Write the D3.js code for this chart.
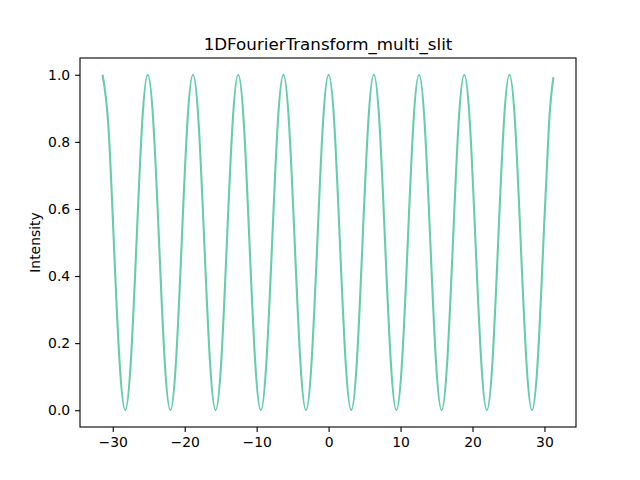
<!DOCTYPE html>
<html>
<head>
<meta charset="utf-8">
<script src="https://cdn.jsdelivr.net/npm/d3@7"></script>
<style>
  body { margin: 0; background: #fff; }
  text { font-family: "DejaVu Sans", sans-serif; fill: #000; }
</style>
</head>
<body>
<div id="chart"></div>
<script>
// sample positions (roughly quarter steps of pi/4)
const xValues = [
  -31.42, -30.63, -29.85, -29.06, -28.27, -27.49, -26.70, -25.92,
  -25.13, -24.35, -23.56, -22.78, -21.99, -21.21, -20.42, -19.64,
  -18.85, -18.06, -17.28, -16.49, -15.71, -14.92, -14.14, -13.35,
  -12.57, -11.78, -11.00, -10.21, -9.42, -8.64, -7.85, -7.07,
  -6.28, -5.50, -4.71, -3.93, -3.14, -2.36, -1.57, -0.79,
  0.00, 0.79, 1.57, 2.36, 3.14, 3.93, 4.71, 5.50,
  6.28, 7.07, 7.85, 8.64, 9.42, 10.21, 11.00, 11.78,
  12.57, 13.35, 14.14, 14.92, 15.71, 16.49, 17.28, 18.06,
  18.85, 19.64, 20.42, 21.21, 21.99, 22.78, 23.56, 24.35,
  25.13, 25.92, 26.70, 27.49, 28.27, 29.06, 29.85, 30.63,
  31.25
];
const intensity = [
  1.0, 0.854, 0.5, 0.146, 0.0, 0.146, 0.5, 0.854,
  1.0, 0.854, 0.5, 0.146, 0.0, 0.146, 0.5, 0.854,
  1.0, 0.854, 0.5, 0.146, 0.0, 0.146, 0.5, 0.854,
  1.0, 0.854, 0.5, 0.146, 0.0, 0.146, 0.5, 0.854,
  1.0, 0.854, 0.5, 0.146, 0.0, 0.146, 0.5, 0.854,
  1.0, 0.854, 0.5, 0.146, 0.0, 0.146, 0.5, 0.854,
  1.0, 0.854, 0.5, 0.146, 0.0, 0.146, 0.5, 0.854,
  1.0, 0.854, 0.5, 0.146, 0.0, 0.146, 0.5, 0.854,
  1.0, 0.854, 0.5, 0.146, 0.0, 0.146, 0.5, 0.854,
  1.0, 0.854, 0.5, 0.146, 0.0, 0.146, 0.5, 0.854,
  0.993
];
const xTicks = [-30, -20, -10, 0, 10, 20, 30];
const yTicks = [0.0, 0.2, 0.4, 0.6, 0.8, 1.0];

const chartTitle = '1DFourierTransform_multi_slit';
const yLabel = 'Intensity';

const width = 640, height = 480;
const margin = { top: 58, right: 64, bottom: 53, left: 80 };
const innerW = width - margin.left - margin.right,
      innerH = height - margin.top - margin.bottom;

const data = xValues.map((x, i) => ({ x: x, y: intensity[i] }));

// matplotlib style 5% padding around the data extent
const xExt = d3.extent(xValues), yExt = d3.extent(intensity);
const xPad = (xExt[1] - xExt[0]) * 0.05,
      yPad = (yExt[1] - yExt[0]) * 0.05;

const x = d3.scaleLinear()
    .domain([xExt[0] - xPad, xExt[1] + xPad])
    .range([0, innerW]);
const y = d3.scaleLinear()
    .domain([yExt[0] - yPad, yExt[1] + yPad])
    .range([innerH, 0]);

const svg = d3.select('#chart')
  .append('svg')
    .attr('width', width)
    .attr('height', height);

const g = svg.append('g')
    .attr('transform', `translate(${margin.left}, ${margin.top})`);

// the curve
const line = d3.line()
    .x(d => x(d.x))
    .y(d => y(d.y))
    .curve(d3.curveNatural);

g.append('path')
    .datum(data)
    .attr('d', line)
    .attr('fill', 'none')
    .attr('stroke', '#66cdaa')
    .attr('stroke-width', 2.1)
    .attr('stroke-linejoin', 'round');

// axes
const xAxis = g.append('g')
    .attr('transform', `translate(0, ${innerH})`)
    .call(d3.axisBottom(x).tickValues(xTicks).tickSize(4.9).tickPadding(4.9));
const yAxis = g.append('g')
    .call(d3.axisLeft(y).tickValues(yTicks).tickFormat(d3.format('.1f')).tickSize(4.9).tickPadding(4.9));

[xAxis, yAxis].forEach(ax => {
    ax.select('.domain').remove();
    ax.selectAll('line').attr('stroke', '#000').attr('stroke-width', 1.1);
    ax.selectAll('text').style('font-size', '13.9px').attr('fill', '#000');
});

// frame
g.append('rect')
    .attr('width', innerW)
    .attr('height', innerH)
    .attr('fill', 'none')
    .attr('stroke', '#000')
    .attr('stroke-width', 1.1);

// title
svg.append('text')
    .attr('x', margin.left + innerW / 2)
    .attr('y', margin.top - 8.3)
    .attr('text-anchor', 'middle')
    .style('font-size', '16.7px')
    .text(chartTitle);

// y label
svg.append('text')
    .attr('transform', `translate(40, ${margin.top + innerH / 2}) rotate(-90)`)
    .attr('text-anchor', 'middle')
    .style('font-size', '13.9px')
    .text(yLabel);
</script>
</body>
</html>
